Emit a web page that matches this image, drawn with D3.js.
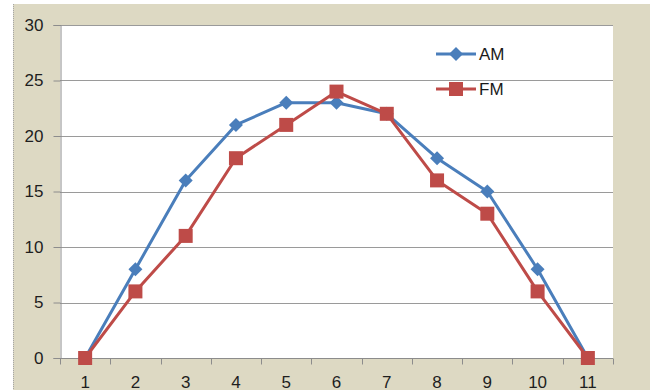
<!DOCTYPE html>
<html>
<head>
<meta charset="utf-8">
<script src="https://cdn.jsdelivr.net/npm/d3@7"></script>
<style>
  body { margin: 0; background: #fff; }
  svg { display: block; font-family: 'Liberation Sans', Arial, sans-serif; }
</style>
</head>
<body>
<div id="chart"></div>
<script>
// data
const categories = ['1', '2', '3', '4', '5', '6', '7', '8', '9', '10', '11']
const amValues = [0, 8, 16, 21, 23, 23, 22, 18, 15, 8, 0]
const fmValues = [0, 6, 11, 18, 21, 24, 22, 16, 13, 6, 0]
const yTicks = [0, 5, 10, 15, 20, 25, 30]

const series = [
  {name: 'AM', values: amValues, color: '#4a7ebb', marker: 'diamond'},
  {name: 'FM', values: fmValues, color: '#be4b48', marker: 'square'}
]

const width = 650
const height = 390
const plot = {left: 60, right: 613, top: 25, bottom: 358}

const svg = d3.select('#chart').append('svg')
  .attr('width', width)
  .attr('height', height)

// chart background
svg.append('rect')
  .attr('x', 13).attr('y', 4)
  .attr('width', width - 13).attr('height', height - 4)
  .attr('fill', '#ddd9c3')
svg.append('line')
  .attr('x1', 13.5).attr('x2', 13.5).attr('y1', 4).attr('y2', height)
  .attr('stroke', '#a6a6a6').attr('stroke-dasharray', '1,1')

// plot area
svg.append('rect')
  .attr('x', plot.left).attr('y', plot.top)
  .attr('width', plot.right - plot.left).attr('height', plot.bottom - plot.top)
  .attr('fill', '#fff')

const x = d3.scaleBand().domain(categories).range([plot.left, plot.right]).padding(0)
const y = d3.scaleLinear().domain([0, 30]).range([plot.bottom, plot.top])

// gridlines
svg.append('g').selectAll('line')
  .data(yTicks.filter((d) => d > 0))
  .join('line')
  .attr('x1', plot.left).attr('x2', plot.right)
  .attr('y1', (d) => Math.round(y(d)) + 0.5)
  .attr('y2', (d) => Math.round(y(d)) + 0.5)
  .attr('stroke', '#9a9a9a')
  .attr('stroke-width', 1.2)

// y axis
const yAxis = svg.append('g')
  .attr('transform', `translate(${plot.left + 0.5},0)`)
  .call(d3.axisLeft(y).tickValues(yTicks).tickSize(7).tickPadding(10))
yAxis.select('.domain').attr('stroke', '#8c8c8c')
yAxis.selectAll('.tick line').attr('stroke', '#8c8c8c')
yAxis.selectAll('.tick text')
  .attr('fill', '#1e1e1e')
  .style('font-size', '17px')
  .style('font-family', "'Liberation Sans', Arial, sans-serif")

// x axis, ticks between categories
const xAxis = svg.append('g')
  .attr('transform', `translate(0,${plot.bottom + 0.5})`)
xAxis.append('line')
  .attr('x1', plot.left).attr('x2', plot.right)
  .attr('stroke', '#8c8c8c')
xAxis.selectAll('.tick-mark')
  .data(d3.range(categories.length + 1))
  .join('line')
  .classed('tick-mark', true)
  .attr('x1', (i) => Math.round(plot.left + i * x.bandwidth()) + 0.5)
  .attr('x2', (i) => Math.round(plot.left + i * x.bandwidth()) + 0.5)
  .attr('y1', 0).attr('y2', 6)
  .attr('stroke', '#8c8c8c')
xAxis.selectAll('.x-label')
  .data(categories)
  .join('text')
  .classed('x-label', true)
  .attr('x', (d) => x(d) + x.bandwidth() / 2)
  .attr('y', 29)
  .attr('text-anchor', 'middle')
  .attr('fill', '#1e1e1e')
  .style('font-size', '17px')
  .text((d) => d)

const cx = (i) => x(categories[i]) + x.bandwidth() / 2

const line = d3.line()
  .x((d, i) => cx(i))
  .y((d) => y(d))

function drawMarker (g, type, color) {
  if (type === 'diamond') {
    g.append('path')
      .attr('d', 'M0,-7L7,0L0,7L-7,0Z')
      .attr('fill', color)
  } else {
    g.append('rect')
      .attr('x', -7).attr('y', -7)
      .attr('width', 14).attr('height', 14)
      .attr('fill', color)
  }
}

// series
series.forEach((s) => {
  svg.append('path')
    .datum(s.values)
    .attr('d', line)
    .attr('fill', 'none')
    .attr('stroke', s.color)
    .attr('stroke-width', 3)
    .attr('stroke-linejoin', 'round')

  s.values.forEach((v, i) => {
    const g = svg.append('g').attr('transform', `translate(${cx(i)},${y(v)})`)
    drawMarker(g, s.marker, s.color)
  })
})

// legend
const legendY = [54, 89]
series.forEach((s, i) => {
  const g = svg.append('g').attr('transform', `translate(436,${legendY[i]})`)
  g.append('line')
    .attr('x1', 0).attr('x2', 40)
    .attr('stroke', s.color).attr('stroke-width', 3)
  const m = g.append('g').attr('transform', 'translate(20,0)')
  drawMarker(m, s.marker, s.color)
  g.append('text')
    .attr('x', 43).attr('y', 0)
    .attr('dy', '0.35em')
    .attr('fill', '#1a1a1a')
    .style('font-size', '17px')
    .text(s.name)
})
</script>
</body>
</html>
